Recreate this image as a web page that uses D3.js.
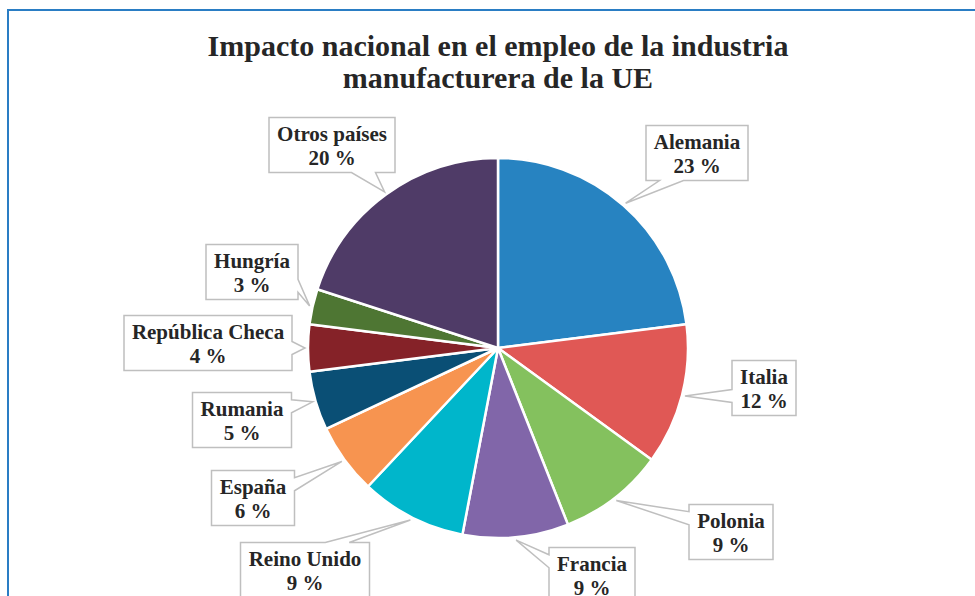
<!DOCTYPE html>
<html>
<head>
<meta charset="utf-8">
<script src="https://cdn.jsdelivr.net/npm/d3@7"></script>
<style>
  body { margin: 0; background: #fff; }
  text { font-family: "Liberation Serif", serif; font-weight: bold; fill: #262626; }
</style>
</head>
<body>
<div id="chart"></div>
<script>
// data, clockwise from 12 o'clock
var countries = ["Alemania", "Italia", "Polonia", "Francia", "Reino Unido",
                 "España", "Rumania", "República Checa", "Hungría", "Otros países"];
var shares = [23, 12, 9, 9, 9, 6, 5, 4, 3, 20];
var colors = ["#2783C1", "#E05855", "#84C15E", "#8166A9", "#00B6CB",
              "#F79450", "#0A4F75", "#852228", "#4E7633", "#4F3B67"];
var titleLines = ["Impacto nacional en el empleo de la industria", "manufacturera de la UE"];

// callout box centres, offset from the pie centre
var labelOffsets = [[199, -195], [266, 40], [233, 184], [94, 227], [-193, 222],
                    [-245, 150], [-256, 72], [-290, -5], [-246, -76], [-166, -203]];

var W = 975, H = 596;
var cx = 498, cy = 348, R = 190;
var boxH = 55;

var svg = d3.select("#chart").append("svg")
    .attr("width", W)
    .attr("height", H);

// chart border, runs off the right and bottom of the picture
svg.append("rect")
    .attr("x", 8).attr("y", 10)
    .attr("width", 1000).attr("height", 700)
    .attr("fill", "none")
    .attr("stroke", "#2A7DC4")
    .attr("stroke-width", 2);

svg.selectAll(".title")
    .data(titleLines)
    .enter().append("text")
    .attr("class", "title")
    .attr("x", cx)
    .attr("y", (d, i) => 56 + i * 32)
    .attr("text-anchor", "middle")
    .style("font-size", "30px")
    .text(d => d);

var data = countries.map((c, i) => ({name: c, value: shares[i], color: colors[i], off: labelOffsets[i]}));

var pie = d3.pie().sort(null).value(d => d.value);
var arc = d3.arc().innerRadius(0).outerRadius(R);
var tipArc = d3.arc().innerRadius(R + 3).outerRadius(R + 3);

var g = svg.append("g").attr("transform", `translate(${cx},${cy})`);
var arcs = pie(data);

g.selectAll(".slice")
    .data(arcs)
    .enter().append("path")
    .attr("class", "slice")
    .attr("d", arc)
    .attr("fill", d => d.data.color)
    .attr("stroke", "#fff")
    .attr("stroke-width", 2.5)
    .attr("stroke-linejoin", "round");

function clamp(v, a, b) { return Math.max(a, Math.min(b, v)); }

// box outline with a wedge pointing at (ax, ay)
function calloutPath(x0, y0, w, h, ax, ay) {
    var x1 = x0 + w, y1 = y0 + h;
    var rx = (ax - (x0 + w / 2)) / (w / 2), ry = (ay - (y0 + h / 2)) / (h / 2);
    var side = Math.abs(rx) > Math.abs(ry) ? (rx < 0 ? "left" : "right") : (ry < 0 ? "top" : "bottom");
    var hw = 12, vw = 6.5;
    var p = [[x0, y0]];
    if (side == "top") {
        var c = clamp(ax, x0 + w * 0.25, x1 - w * 0.25);
        p.push([c - hw, y0], [ax, ay], [c + hw, y0]);
    }
    p.push([x1, y0]);
    if (side == "right") {
        var c = clamp(ay, y0 + h * 0.25, y1 - h * 0.25);
        p.push([x1, c - vw], [ax, ay], [x1, c + vw]);
    }
    p.push([x1, y1]);
    if (side == "bottom") {
        var c = clamp(ax, x0 + w * 0.25, x1 - w * 0.25);
        p.push([c + hw, y1], [ax, ay], [c - hw, y1]);
    }
    p.push([x0, y1]);
    if (side == "left") {
        var c = clamp(ay, y0 + h * 0.25, y1 - h * 0.25);
        p.push([x0, c + vw], [ax, ay], [x0, c - vw]);
    }
    return "M" + p.map(q => q.join(",")).join("L") + "Z";
}

var labels = g.selectAll(".callout")
    .data(arcs)
    .enter().append("g")
    .attr("class", "callout");

labels.each(function(d) {
    var sel = d3.select(this);
    var path = sel.append("path");
    var t1 = sel.append("text").attr("text-anchor", "middle").style("font-size", "21px").text(d.data.name);
    var t2 = sel.append("text").attr("text-anchor", "middle").style("font-size", "21px")
        .text(d.data.value + "\u00a0%");
    var tw = Math.max(t1.node().getComputedTextLength(), t2.node().getComputedTextLength());
    var w = Math.round(tw + 16);
    var bx = d.data.off[0], by = d.data.off[1];
    var x0 = bx - w / 2, y0 = by - boxH / 2;
    var tip = tipArc.centroid(d);
    path.attr("d", calloutPath(x0, y0, w, boxH, tip[0], tip[1]))
        .attr("fill", "#fff")
        .attr("stroke", "#BFBFBF")
        .attr("stroke-width", 1.5);
    t1.attr("x", bx).attr("y", y0 + 23);
    t2.attr("x", bx).attr("y", y0 + 47);
});
</script>
</body>
</html>
